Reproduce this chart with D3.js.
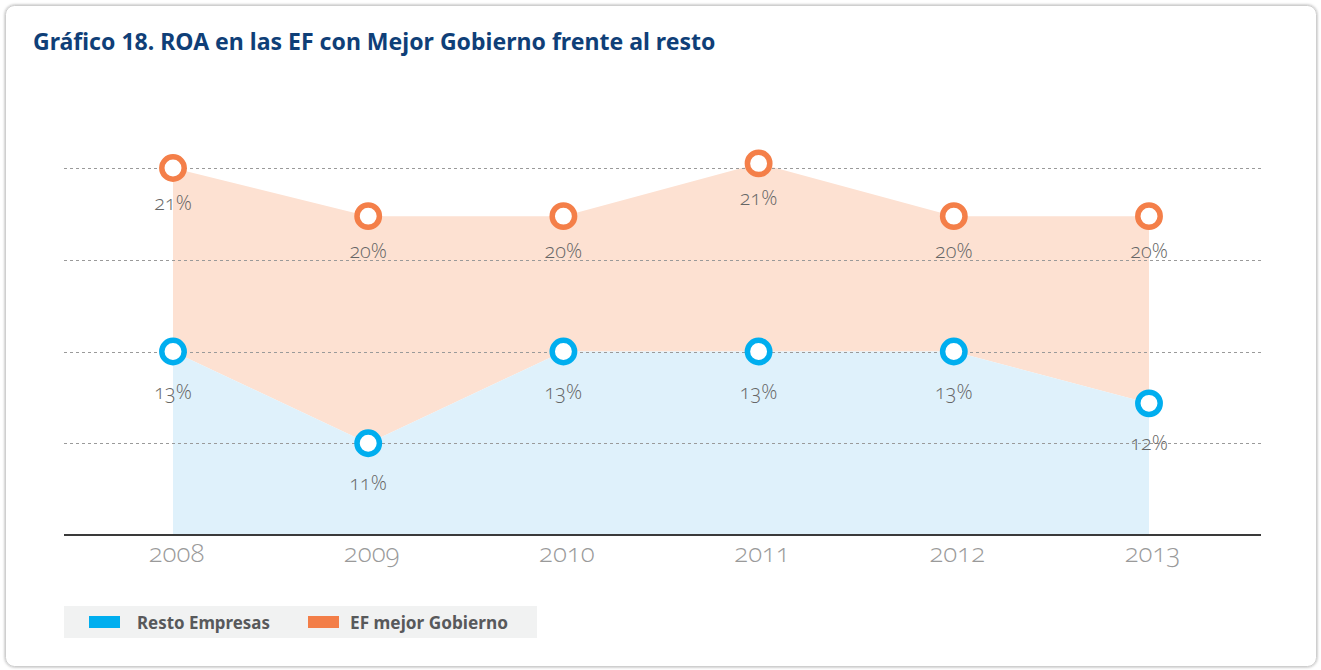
<!DOCTYPE html>
<html><head><meta charset="utf-8">
<script src="https://cdn.jsdelivr.net/npm/d3@7"></script>
<style>
html,body{margin:0;padding:0;background:#fff;}
svg{display:block;}
.num{font-family:"Open Sans",Lato,sans-serif;font-weight:300;font-variant-numeric:oldstyle-nums;font-feature-settings:"onum" 1;}
</style></head>
<body>
<svg id="c" width="1321" height="670"></svg>
<script>
const years = ["2008","2009","2010","2011","2012","2013"];
const restoEmpresas = [13, 11, 13, 13, 13, 11.87];
const efMejorGobierno = [21.0, 19.95, 19.95, 21.1, 19.95, 19.95];
const gridTicks = [11, 13, 15, 17];
const seriesNames = ["Resto Empresas", "EF mejor Gobierno"];
const title = "Gráfico 18. ROA en las EF con Mejor Gobierno frente al resto";

const svg = d3.select("#c");
const defs = svg.append("defs");
const f = defs.append("filter").attr("id","sh").attr("x","-5%").attr("y","-5%").attr("width","110%").attr("height","110%");
f.append("feDropShadow").attr("dx",0).attr("dy",0).attr("stdDeviation",1.5).attr("flood-color","#000").attr("flood-opacity",0.35);

svg.append("rect").attr("x",5.5).attr("y",5.5).attr("width",1311).attr("height",661).attr("rx",9)
  .attr("fill","#fff").attr("stroke","#cfcfcf").attr("stroke-width",1).attr("filter","url(#sh)");

// title
const t = svg.append("text").attr("x",33).attr("y",50).text(title)
  .attr("font-family","'Noto Sans',sans-serif").attr("font-weight",700).attr("fill","#0f3f78").attr("font-size",22);
{ const w = t.node().getComputedTextLength(); t.attr("font-size", 22*683/w); }

const xLeft = 64, xRight = 1261, yBase = 535, yTop = 168;
const x = d3.scalePoint().domain(years).range([173, 1149]);
const yBlue = d3.scaleLinear().domain([9, 17]).range([yBase, yTop]);
const yOrange = d3.scaleLinear().domain([13, 21]).range([yBase, yTop]);

const data = years.map((y,i)=>({year:y, b:restoEmpresas[i], o:efMejorGobierno[i]}));

// areas
svg.append("path").datum(data).attr("fill","#fde1d2")
  .attr("d", d3.area().x(d=>x(d.year)).y0(d=>yBlue(d.b)).y1(d=>yOrange(d.o)));
svg.append("path").datum(data).attr("fill","#dff1fb")
  .attr("d", d3.area().x(d=>x(d.year)).y0(yBase).y1(d=>yBlue(d.b)));

// gridlines
svg.append("g").selectAll("line").data(gridTicks).join("line")
  .attr("x1",xLeft).attr("x2",xRight).attr("y1",d=>Math.round(yBlue(d))+0.5).attr("y2",d=>Math.round(yBlue(d))+0.5)
  .attr("stroke","#9a9a9a").attr("stroke-width",1).attr("stroke-dasharray","3,3");

// x axis
const xAxis = svg.append("g").attr("transform",`translate(0,${yBase})`)
  .call(d3.axisBottom(x).tickSize(0).tickPadding(0));
xAxis.select(".domain").remove();
svg.append("line").attr("x1",xLeft).attr("x2",xRight).attr("y1",yBase).attr("y2",yBase).attr("stroke","#3a3a3a").attr("stroke-width",2);
xAxis.selectAll("text").attr("class","num").attr("dy",null).attr("y",27).attr("x",3)
  .attr("font-size",26).attr("fill","#9a9a9a").attr("font-family",null);

// markers + labels
function series(vals, scale, color, dy){
  const g = svg.append("g");
  g.selectAll("circle").data(vals).join("circle")
    .attr("cx",(d,i)=>x(years[i])).attr("cy",d=>scale(d)).attr("r",11.2)
    .attr("fill","#fff").attr("stroke",color).attr("stroke-width",5.5);
  g.selectAll("text").data(vals).join("text").attr("class","num")
    .attr("x",(d,i)=>x(years[i])).attr("y",d=>scale(d)+dy).attr("text-anchor","middle")
    .attr("font-size",20).attr("fill","#666").text(d=>Math.round(d)+"%");
}
series(efMejorGobierno, yOrange, "#f47f49", 42);
series(restoEmpresas, yBlue, "#00aeef", 47);

// legend
const lg = svg.append("g");
lg.append("rect").attr("x",64).attr("y",606).attr("width",473).attr("height",32).attr("fill","#f1f2f2");
const items = [{n:seriesNames[0],c:"#00aeef",sx:89,tx:137,tw:133},{n:seriesNames[1],c:"#f37e48",sx:308,tx:350,tw:158}];
items.forEach(it=>{
  lg.append("rect").attr("x",it.sx).attr("y",616).attr("width",31).attr("height",12).attr("fill",it.c);
  const tt = lg.append("text").attr("x",it.tx).attr("y",629).text(it.n)
    .attr("font-family","'Noto Sans',sans-serif").attr("font-weight",700).attr("font-size",17).attr("fill","#58595b");
  const w = tt.node().getComputedTextLength(); tt.attr("font-size",17*it.tw/w);
});
</script>
</body></html>
